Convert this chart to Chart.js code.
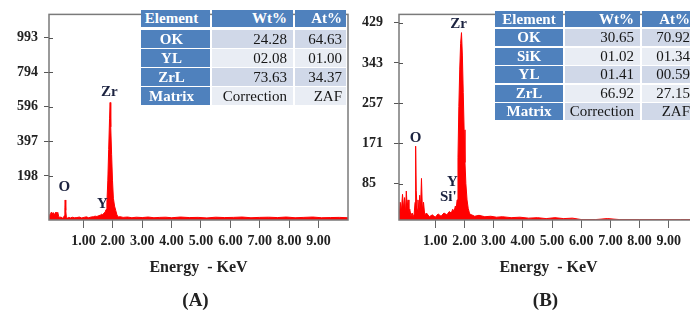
<!DOCTYPE html>
<html>
<head>
<meta charset="utf-8">
<script src="https://cdn.jsdelivr.net/npm/chart.js@4.4.1/dist/chart.umd.min.js"></script>
<style>
    html, body { margin: 0; padding: 0; background: #fff; }
    body { width: 690px; height: 320px; position: relative; overflow: hidden; }
    canvas { position: absolute; top: 0; }
    #chartA { left: 0; }
    #chartB { left: 350px; }
    .cell {
        position: absolute;
        box-sizing: border-box;
        font-family: "Liberation Serif", serif;
        font-size: 15px;
        color: #161616;
        white-space: nowrap;
        overflow: hidden;
    }
    .cell.hd { background: #4f81bd; color: #fff; font-weight: bold; }
    .cell.r0 { background: #d0d8e8; }
    .cell.r1 { background: #e9edf4; }
</style>
</head>
<body>
<canvas id="chartA" width="352" height="320"></canvas>
<canvas id="chartB" width="360" height="320"></canvas>
<div id="tables"></div>

<script>
// ---- spectrum (A) ----
const energyA = [-0.17, -0.12, -0.09, -0.06, -0.03, 0.01, 0.04, 0.07, 0.1, 0.13,
    0.16, 0.2, 0.24, 0.28, 0.32, 0.35, 0.37, 0.38, 0.4, 0.42,
    0.46, 0.5, 0.56, 0.62, 0.7, 0.78, 0.86, 0.94, 1.02, 1.1,
    1.18, 1.26, 1.34, 1.4, 1.46, 1.52, 1.57, 1.62, 1.66, 1.7,
    1.74, 1.77, 1.8, 1.83, 1.86, 1.89, 1.91, 1.93, 1.96, 1.99,
    2.02, 2.06, 2.1, 2.14, 2.18, 2.25, 2.35, 2.5, 2.65, 2.8,
    3.0, 3.2, 3.4, 3.6, 3.8, 4.0, 4.3, 4.6, 4.9, 5.2,
    5.5, 5.8, 6.1, 6.4, 6.7, 7.0, 7.3, 7.6, 7.9, 8.2,
    8.5, 8.8, 9.1, 9.4, 9.7, 10.0];
const countsA = [-30, -20, -10, -22, -12, -28, -14, -10, -20, -12,
    -35, -40, -38, -44, -42, -30, 15, 60, 0, -38,
    -44, -40, -43, -39, -42, -41, -38, -43, -40, -37,
    -42, -38, -36, -33, -35, -30, -28, -22, -25, -15,
    -10, 5, 45, 170, 350, 530, 620, 480, 320, 170,
    70, 25, 0, -25, -38, -36, -40, -38, -42, -39,
    -41, -38, -42, -40, -39, -42, -38, -41, -40, -43,
    -39, -41, -40, -38, -42, -40, -39, -41, -38, -42,
    -40, -38, -42, -41, -40, -42];

// ---- spectrum (B) ----
const energyB = [-0.24, -0.2, -0.16, -0.12, -0.08, -0.05, -0.02, 0.01, 0.04, 0.07,
    0.1, 0.13, 0.17, 0.21, 0.25, 0.28, 0.31, 0.33, 0.35, 0.38,
    0.41, 0.44, 0.47, 0.5, 0.53, 0.56, 0.6, 0.64, 0.7, 0.8,
    0.9, 1.0, 1.1, 1.2, 1.3, 1.4, 1.48, 1.55, 1.6, 1.65,
    1.69, 1.72, 1.75, 1.78, 1.81, 1.84, 1.87, 1.9, 1.93, 1.96,
    1.99, 2.02, 2.05, 2.09, 2.13, 2.18, 2.25, 2.35, 2.5, 2.7,
    2.9, 3.1, 3.3, 3.6, 3.9, 4.2, 4.5, 4.8, 5.1, 5.4,
    5.7, 6.0, 6.5, 6.9, 7.3, 8.0, 8.7, 9.4, 10.0];
const countsB = [7, 45, 25, 62, 30, 55, 20, 69, 35, 50,
    22, 30, 15, 22, 14, 20, 45, 165, 70, 30,
    50, 25, 60, 35, 96, 30, 45, 18, 22, 14,
    18, 13, 20, 15, 22, 18, 25, 22, 30, 26,
    37, 32, 50, 140, 250, 330, 385, 408, 360, 280,
    200, 130, 85, 50, 32, 20, 18, 15, 17, 14,
    15, 13, 14, 12, 13, 11, 12, 10, 12, 10,
    11, 8, 8, 10, 8, 8, 8, 8, 8];

const tickKeV = [1, 2, 3, 4, 5, 6, 7, 8, 9];
const yTicksA = [198, 397, 596, 794, 993];
const yTicksB = [85, 171, 257, 343, 429];

const peakNamesA = ["O", "Y", "Zr"];
const peakKeVA = [0.35, 1.65, 1.88];
const peakCountsA = [134, 39, 677];

const peakNamesB = ["O", "Y", "Si'", "Zr"];
const peakKeVB = [0.33, 1.59, 1.45, 1.8];
const peakCountsB = [183, 87, 56, 426];

const tableHeader = ["Element", "Wt%", "At%"];
const tableRowsA = [
    ["OK", "24.28", "64.63"],
    ["YL", "02.08", "01.00"],
    ["ZrL", "73.63", "34.37"],
    ["Matrix", "Correction", "ZAF"]
];
const tableRowsB = [
    ["OK", "30.65", "70.92"],
    ["SiK", "01.02", "01.34"],
    ["YL", "01.41", "00.59"],
    ["ZrL", "66.92", "27.15"],
    ["Matrix", "Correction", "ZAF"]
];

const serif = '"Liberation Serif", "Times New Roman", serif';

// frame, inner tick stubs, peak names and captions
const framePlugin = {
    id: "frame",
    afterDraw(chart, args, opts) {
        const { ctx, chartArea: a, scales } = chart;
        ctx.save();
        ctx.strokeStyle = "#7a7a7a";
        ctx.lineWidth = 1.5;
        ctx.strokeRect(a.left, a.top, a.right - a.left, a.bottom - a.top);

        ctx.lineWidth = 1;
        ctx.strokeStyle = "#555";
        scales.y.ticks.forEach(t => {
            const py = Math.round(scales.y.getPixelForValue(t.value)) + 0.5;
            ctx.beginPath();
            ctx.moveTo(a.left, py);
            ctx.lineTo(a.left + 4, py);
            ctx.stroke();
        });

        ctx.fillStyle = "#1c2340";
        ctx.font = `bold 15px ${serif}`;
        ctx.textAlign = "center";
        ctx.textBaseline = "middle";
        opts.names.forEach((n, i) => {
            ctx.fillText(n, scales.x.getPixelForValue(opts.kev[i]), scales.y.getPixelForValue(opts.counts[i]));
        });

        const cx = (a.left + a.right) / 2;
        ctx.fillStyle = "#222";
        ctx.font = `bold 16px ${serif}`;
        ctx.fillText("Energy  - KeV", cx, a.bottom + 48);
        ctx.font = `bold 19px ${serif}`;
        ctx.fillText(opts.letter, cx - 3, a.bottom + 81);
        ctx.restore();
    }
};

function makeChart(id, energy, counts, cfg) {
    return new Chart(document.getElementById(id), {
        type: "line",
        data: {
            datasets: [{
                data: energy.map((e, i) => ({ x: e, y: counts[i] })),
                borderColor: "#ff0000",
                backgroundColor: "#ff0000",
                borderWidth: 1,
                pointRadius: 0,
                tension: 0,
                fill: "start"
            }]
        },
        options: {
            responsive: false,
            animation: false,
            layout: { padding: cfg.padding },
            plugins: {
                legend: { display: false },
                tooltip: { enabled: false },
                frame: { names: cfg.names, kev: cfg.kev, counts: cfg.counts, letter: cfg.letter }
            },
            scales: {
                x: {
                    type: "linear",
                    min: cfg.xMin,
                    max: 10,
                    afterBuildTicks: s => { s.ticks = tickKeV.map(v => ({ value: v })); },
                    afterFit: s => { s.height = 100; },
                    border: { display: false },
                    grid: { drawOnChartArea: false, tickLength: 8, color: "#666" },
                    ticks: {
                        autoSkip: false,
                        maxRotation: 0,
                        padding: 5,
                        color: "#222",
                        font: { family: serif, size: 14, weight: "bold" },
                        callback: v => v.toFixed(2)
                    }
                },
                y: {
                    min: cfg.yMin,
                    max: cfg.yMax,
                    afterBuildTicks: s => { s.ticks = cfg.yTicks.map(v => ({ value: v })); },
                    afterFit: s => { s.width = cfg.yWidth; },
                    border: { display: false },
                    grid: { drawOnChartArea: false, tickLength: 5, color: "#555" },
                    ticks: {
                        crossAlign: cfg.crossAlign,
                        padding: 6,
                        color: "#222",
                        font: { family: serif, size: 14, weight: "bold" },
                        callback: v => String(v)
                    }
                }
            }
        },
        plugins: [framePlugin]
    });
}

makeChart("chartA", energyA, countsA, {
    xMin: -0.17, yMin: -55, yMax: 1126, yTicks: yTicksA, yWidth: 49, crossAlign: "near",
    padding: { left: 0, right: 4, top: 7, bottom: 0 },
    names: peakNamesA, kev: peakKeVA, counts: peakCountsA, letter: "(A)"
});

makeChart("chartB", energyB, countsB, {
    xMin: -0.24, yMin: 7, yMax: 447, yTicks: yTicksB, yWidth: 37, crossAlign: "far",
    padding: { left: 12, right: 12, top: 7, bottom: 0 },
    names: peakNamesB, kev: peakKeVB, counts: peakCountsB, letter: "(B)"
});

// ---- result tables ----
function buildTable(rows, t) {
    const holder = document.getElementById("tables");
    const all = [tableHeader].concat(rows);
    let y = t.top;
    all.forEach((row, r) => {
        const h = r === 0 ? t.headH : t.rowH;
        let x = t.left;
        row.forEach((txt, c) => {
            const d = document.createElement("div");
            d.className = "cell " + (r === 0 || c === 0 ? "hd" : (r % 2 ? "r0" : "r1"));
            d.textContent = txt;
            d.style.left = x + "px";
            d.style.top = y + "px";
            d.style.width = t.colW[c] + "px";
            d.style.height = h + "px";
            d.style.lineHeight = h + "px";
            if (c === 0) {
                d.style.textAlign = "center";
                d.style.paddingRight = t.firstShift + "px";
            } else {
                d.style.textAlign = "right";
                d.style.paddingRight = (c === 1 ? 6 : 4) + "px";
            }
            holder.appendChild(d);
            x += t.colW[c] + 2;
        });
        y += h + (r === 0 ? t.headGap : t.gap);
    });
}

buildTable(tableRowsA, { left: 141, top: 10, colW: [69, 81, 51], headH: 17, headGap: 3, rowH: 18, gap: 1, firstShift: 8 });
buildTable(tableRowsB, { left: 495, top: 11, colW: [68, 75, 52], headH: 16, headGap: 2, rowH: 17, gap: 1.5, firstShift: 0 });
</script>
</body>
</html>
